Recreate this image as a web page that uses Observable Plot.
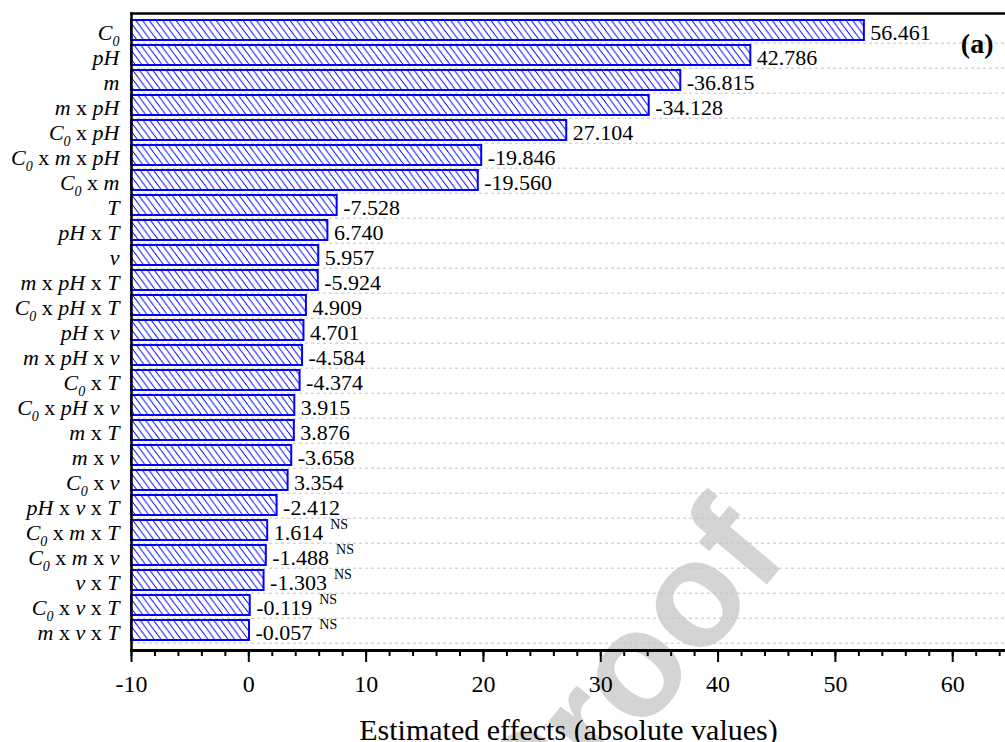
<!DOCTYPE html>
<html>
<head>
<meta charset="utf-8">
<script src="https://cdn.jsdelivr.net/npm/d3@7"></script>
<script src="https://cdn.jsdelivr.net/npm/@observablehq/plot@0.6"></script>
<style>
  html, body { margin: 0; padding: 0; background: white; }
  #chart { width: 1005px; height: 742px; }
  #chart svg { font-family: "Liberation Serif", "Times New Roman", serif !important; }
</style>
</head>
<body>
<div id="chart"></div>
<script>
// Effect names (top to bottom)
const names = ["C0", "pH", "m", "m x pH", "C0 x pH", "C0 x m x pH", "C0 x m", "T", "pH x T", "ν",
  "m x pH x T", "C0 x pH x T", "pH x ν", "m x pH x ν", "C0 x T", "C0 x pH x ν", "m x T", "m x ν",
  "C0 x ν", "pH x ν x T", "C0 x m x T", "C0 x m x ν", "ν x T", "C0 x ν x T", "m x ν x T"];
// Estimated effects (printed labels)
const effects = [56.461, 42.786, -36.815, -34.128, 27.104, -19.846, -19.560, -7.528, 6.740, 5.957,
  -5.924, 4.909, 4.701, -4.584, -4.374, 3.915, 3.876, -3.658,
  3.354, -2.412, 1.614, -1.488, -1.303, -0.119, -0.057];
// Bar lengths as drawn (absolute values)
const barLengths = [52.47, 42.79, 36.82, 34.13, 27.10, 19.85, 19.56, 7.53, 6.74, 5.96,
  5.92, 4.91, 4.70, 4.58, 4.37, 3.92, 3.88, 3.66,
  3.35, 2.41, 1.61, 1.49, 1.30, 0.12, 0.06];
// Significance marks
const significance = ["", "", "", "", "", "", "", "", "", "",
  "", "", "", "", "", "", "", "",
  "", "", "NS", "NS", "NS", "NS", "NS"];
// Axis
const xDomain = [-10, 64.5];
const xTicks = [-10, 0, 10, 20, 30, 40, 50, 60];
const xMinorTicks = d3.range(-10, 65, 2);
const xTitle = "Estimated effects (absolute values)";
const panelLabel = "(a)";
const watermark = "Proof";

const data = names.map((name, i) => ({name, effect: effects[i], length: barLengths[i], sig: significance[i]}));

const blue = "#0000ff";
const serif = "Liberation Serif";

const defsMark = () => {
  const defs = d3.create("svg:defs");
  const p = defs.append("pattern").attr("id", "hatch").attr("patternUnits", "userSpaceOnUse")
    .attr("width", 6.7).attr("height", 9);
  p.append("rect").attr("width", 6.7).attr("height", 9).attr("fill", "white");
  p.append("path").attr("d", "M-6.7,0L0,9M0,0L6.7,9M6.7,0L13.4,9")
    .attr("stroke", blue).attr("stroke-width", 1).attr("fill", "none");
  return defs.node();
};

const plot = Plot.plot({
  width: 1005,
  height: 742,
  marginLeft: 131,
  marginRight: 0,
  marginTop: 13,
  marginBottom: 92,
  style: {fontSize: "22px", color: "black", background: "white", overflow: "visible"},
  x: {domain: xDomain},
  y: {domain: names, range: [13, 647], paddingInner: 0.21, paddingOuter: 0.105, align: 0.5},
  marks: [
    Plot.text([watermark], {text: d => d, frameAnchor: "top-left", dx: 325, dy: 775, rotate: -50,
      fontSize: 150, fontWeight: "bold", fill: "#d4d4d4", fontFamily: "Liberation Sans"}),
    Plot.ruleY(data, {y: "name", dy: 12.7, stroke: "#c4c4c4", strokeDasharray: "3,3", strokeWidth: 1}),
    defsMark,
    Plot.barX(data, {y: "name", x1: d => xDomain[0], x2: "length", fill: "url(#hatch)", stroke: blue, strokeWidth: 2}),
    Plot.text(data, {y: "name", x: "length", text: d => d.effect.toFixed(3), textAnchor: "start",
      dx: 6, dy: 2.5, fontSize: 22, fontFamily: serif}),
    Plot.axisY({tickSize: 0, tickPadding: 12, fontSize: 22, dy: 2, label: null, fontFamily: serif}),
    Plot.axisX({ticks: xMinorTicks, tickSize: 6, tickFormat: () => "", strokeWidth: 2, label: null}),
    Plot.axisX({ticks: xTicks, tickSize: 12, tickPadding: 12.5, fontSize: 24, tickFormat: d => String(d),
      strokeWidth: 2, label: null, fontFamily: serif}),
    Plot.frame({anchor: "bottom", strokeWidth: 3}),
    Plot.frame({anchor: "left", strokeWidth: 2.5}),
    Plot.frame({anchor: "top", strokeWidth: 2.5}),
    Plot.text([xTitle], {text: d => d, frameAnchor: "bottom", lineAnchor: "middle", dy: 80, fontSize: 30, fontFamily: serif}),
    Plot.text([panelLabel], {text: d => d, frameAnchor: "top-right", lineAnchor: "middle", textAnchor: "end",
      dx: -12, dy: 31, fontSize: 28, fontWeight: "bold", fontFamily: serif})
  ]
});

const svgSel = d3.select(plot);
const ns = "http://www.w3.org/2000/svg";

// Rich y tick labels: italic variables, upright "x", subscript 0
svgSel.selectAll('g[aria-label="y-axis tick label"] text').each(function() {
  const s = this.textContent;
  this.textContent = "";
  const el = this;
  let pending = 0;
  const add = (txt, opts) => {
    const t = document.createElementNS(ns, "tspan");
    t.textContent = txt;
    const dy = pending + (opts.dy || 0);
    pending = 0;
    if (dy) t.setAttribute("dy", dy);
    if (opts.italic) t.setAttribute("font-style", "italic");
    if (opts.size) t.setAttribute("font-size", opts.size);
    el.appendChild(t);
  };
  s.split(" ").forEach((tok, i) => {
    const pre = i > 0 ? " " : "";
    if (tok === "x") add(pre + "x", {});
    else if (tok === "C0") {
      add(pre + "C", {italic: true});
      add("0", {italic: true, size: 14, dy: 6});
      pending = -6;
    } else add(pre + tok, {italic: true});
  });
});

// NS superscripts on value labels
const valueGroup = svgSel.selectAll('g[aria-label="text"]')
  .filter(function() { return this.querySelectorAll("text").length === data.length; });
valueGroup.selectAll("text").each(function(_, i) {
  const idx = d3.select(this).datum();
  const k = typeof idx === "number" ? idx : i;
  if (data[k] && data[k].sig) {
    const t = document.createElementNS(ns, "tspan");
    t.textContent = data[k].sig;
    t.setAttribute("dx", 7);
    t.setAttribute("dy", -11);
    t.setAttribute("font-size", 14);
    this.appendChild(t);
  }
});

document.getElementById("chart").appendChild(plot);
</script>
</body>
</html>
